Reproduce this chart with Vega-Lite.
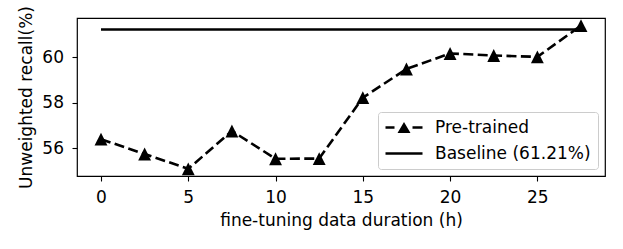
{
  "$schema": "https://vega.github.io/schema/vega-lite/v6.json",
  "width": 528,
  "height": 158,
  "autosize": {"type": "none"},
  "padding": {"left": 77, "top": 18, "right": 18, "bottom": 73},
  "background": "white",
  "config": {
    "font": "DejaVu Sans",
    "view": {"stroke": "black", "strokeWidth": 1.2},
    "axis": {
      "domain": false,
      "grid": false,
      "ticks": true,
      "tickColor": "black",
      "tickSize": 5,
      "tickWidth": 1.1,
      "labelFont": "DejaVu Sans",
      "labelFontSize": 17,
      "labelColor": "black",
      "titleFont": "DejaVu Sans",
      "titleFontSize": 17,
      "titleFontWeight": "normal",
      "titleColor": "black"
    }
  },
  "data": {
    "values": [
      {"x": 0, "y": 56.4, "series": "Pre-trained"},
      {"x": 2.5, "y": 55.75, "series": "Pre-trained"},
      {"x": 5, "y": 55.1, "series": "Pre-trained"},
      {"x": 7.5, "y": 56.76, "series": "Pre-trained"},
      {"x": 10, "y": 55.54, "series": "Pre-trained"},
      {"x": 12.5, "y": 55.55, "series": "Pre-trained"},
      {"x": 15, "y": 58.22, "series": "Pre-trained"},
      {"x": 17.5, "y": 59.48, "series": "Pre-trained"},
      {"x": 20, "y": 60.16, "series": "Pre-trained"},
      {"x": 22.5, "y": 60.07, "series": "Pre-trained"},
      {"x": 25, "y": 60.01, "series": "Pre-trained"},
      {"x": 27.5, "y": 61.38, "series": "Pre-trained"},
      {"x": 0, "y": 61.21, "series": "Baseline (61.21%)"},
      {"x": 27.5, "y": 61.21, "series": "Baseline (61.21%)"}
    ]
  },
  "encoding": {
    "x": {
      "field": "x",
      "type": "quantitative",
      "scale": {"domain": [-1.375, 28.875], "nice": false, "zero": false},
      "axis": {"values": [0, 5, 10, 15, 20, 25], "labelPadding": 8, "titlePadding": 7},
      "title": "fine-tuning data duration (h)"
    },
    "y": {
      "field": "y",
      "type": "quantitative",
      "scale": {"domain": [54.785, 61.715], "nice": false, "zero": false},
      "axis": {"values": [56, 58, 60], "labelPadding": 8.5, "titlePadding": 6},
      "title": "Unweighted recall(%)"
    }
  },
  "layer": [
    {
      "transform": [{"filter": "datum.series == 'Baseline (61.21%)'"}],
      "mark": {"type": "line", "color": "black", "strokeWidth": 2.6},
      "encoding": {}
    },
    {
      "transform": [{"filter": "datum.series == 'Pre-trained'"}],
      "mark": {"type": "line", "color": "black", "strokeWidth": 2.6, "strokeDash": [10, 4.4]},
      "encoding": {}
    },
    {
      "transform": [{"filter": "datum.series == 'Pre-trained'"}],
      "mark": {"type": "point", "filled": true, "shape": "M0,-1L1,1L-1,1Z", "size": 165, "opacity": 1, "strokeWidth": 0},
      "encoding": {
        "fill": {
          "field": "series",
          "type": "nominal",
          "scale": {"domain": ["Pre-trained", "Baseline (61.21%)"], "range": ["black", "black"]},
          "legend": {
            "title": null,
            "orient": "bottom-right",
            "offset": 7,
            "padding": 7,
            "rowPadding": 8,
            "labelFont": "DejaVu Sans",
            "labelFontSize": 17,
            "labelColor": "black",
            "labelOffset": 33,
            "symbolSize": 256,
            "symbolStrokeWidth": 0,
            "symbolOpacity": 1,
            "fillColor": "white",
            "strokeColor": "#cccccc",
            "cornerRadius": 3,
            "encode": {
              "symbols": {
                "update": {
                  "shape": {"signal": "datum.value == 'Pre-trained' ? 'M-1,-0.16H0.125V0.16H-1Z M2.375,-0.16H3.625V0.16H2.375Z M0.5,0.7L1.3125,-0.7L2.125,0.7Z' : 'M-1,-0.16H3.625V0.16H-1Z'"},
                  "fill": {"value": "black"},
                  "opacity": {"value": 1}
                }
              }
            }
          }
        }
      }
    }
  ]
}
